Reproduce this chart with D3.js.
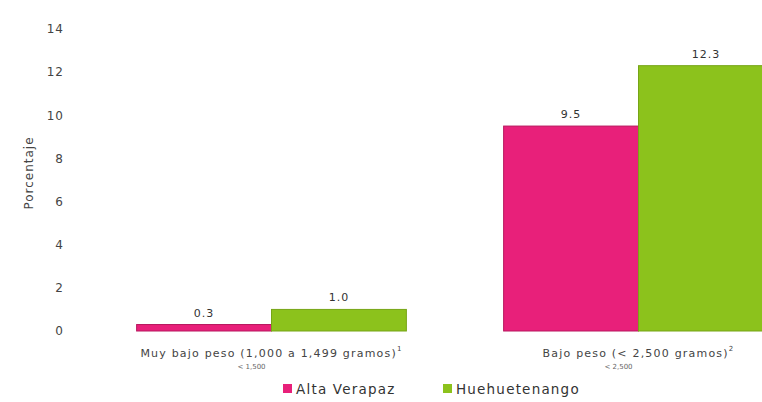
<!DOCTYPE html>
<html>
<head>
<meta charset="utf-8">
<script src="https://cdn.jsdelivr.net/npm/d3@7"></script>
<style>
  html, body { margin: 0; padding: 0; background: #ffffff; }
  svg { display: block; font-family: "DejaVu Sans", Verdana, sans-serif; }
</style>
</head>
<body>
<svg id="chart" width="762" height="402"></svg>
<script>
// Low birth weight percentages by department
const categories = ["Muy bajo peso (1,000 a 1,499 gramos)", "Bajo peso (< 2,500 gramos)"];
const categoryNotes = ["1", "2"];
const categorySublines = ["< 1,500", "< 2,500"];
const seriesNames = ["Alta Verapaz", "Huehuetenango"];
const altaVerapaz = [0.3, 9.5];
const huehuetenango = [1.0, 12.3];
const valueLabels = [["0.3", "1.0"], ["9.5", "12.3"]];
const yTicks = [0, 2, 4, 6, 8, 10, 12, 14];

const colors = ["#e8207a", "#8cc21c"];
const strokes = ["#b8175e", "#76a516"];

const svg = d3.select("#chart");

const x = d3.scaleBand().domain(categories).range([88, 822])
  .paddingInner(0.265).paddingOuter(0.1325);
const xs = d3.scaleBand().domain(seriesNames).range([0, x.bandwidth()]);
const y = d3.scaleLinear().domain([0, 14]).range([331, 29]);

// y axis labels only, no axis line
const yAxis = d3.axisLeft(y).tickValues(yTicks).tickSize(0).tickPadding(0);
const ya = svg.append("g").attr("transform", "translate(64,0)").call(yAxis);
ya.select(".domain").remove();
ya.selectAll("text")
  .attr("font-size", 12).attr("fill", "#444")
  .attr("letter-spacing", 1)
  .attr("font-family", "'DejaVu Sans', sans-serif");

svg.append("text")
  .attr("transform", "translate(33,173) rotate(-90)")
  .attr("text-anchor", "middle")
  .attr("font-size", 12).attr("fill", "#444")
  .attr("letter-spacing", 1)
  .text("Porcentaje");

const rows = categories.map((c, i) => ({
  cat: c, vals: [altaVerapaz[i], huehuetenango[i]], labels: valueLabels[i]
}));

const groups = svg.append("g").selectAll("g").data(rows).join("g")
  .attr("transform", d => `translate(${x(d.cat)},0)`);

groups.selectAll("rect").data(d => d.vals.map((v, j) => ({ v, j, name: seriesNames[j] })))
  .join("rect")
  .attr("x", d => xs(d.name))
  .attr("width", xs.bandwidth())
  .attr("y", d => y(d.v))
  .attr("height", d => y(0) - y(d.v))
  .attr("fill", d => colors[d.j])
  .attr("stroke", d => strokes[d.j])
  .attr("stroke-width", 1);

groups.selectAll("text.val").data(d => d.vals.map((v, j) => ({ v, j, name: seriesNames[j], label: d.labels[j] })))
  .join("text")
  .attr("class", "val")
  .attr("x", d => xs(d.name) + xs.bandwidth() / 2)
  .attr("y", d => y(d.v) - 8)
  .attr("text-anchor", "middle")
  .attr("font-size", 11).attr("fill", "#333")
  .attr("letter-spacing", 1)
  .text(d => d.label);

// category labels with footnote marks
const catLabels = svg.append("g").selectAll("g").data(categories).join("g")
  .attr("transform", d => `translate(${x(d) + x.bandwidth() / 2},357)`);
catLabels.append("text")
  .attr("text-anchor", "middle")
  .attr("font-size", 11).attr("fill", "#444")
  .attr("letter-spacing", 1.2)
  .each(function(d, i) {
    const t = d3.select(this);
    t.append("tspan").text(d);
    t.append("tspan").attr("dy", -6).attr("font-size", 7).text(categoryNotes[i]);
  });
catLabels.append("text")
  .attr("x", -20).attr("y", 12)
  .attr("font-size", 7).attr("fill", "#666")
  .attr("text-anchor", "middle")
  .text((d, i) => categorySublines[i]);

// legend
const legendX = [283, 443];
const legend = svg.append("g").selectAll("g").data(seriesNames).join("g")
  .attr("transform", (d, i) => `translate(${legendX[i]},384)`);
legend.append("rect").attr("width", 9).attr("height", 9)
  .attr("fill", (d, i) => colors[i]);
legend.append("text").attr("x", 13).attr("y", 10)
  .attr("font-size", 13.5).attr("fill", "#333")
  .attr("letter-spacing", 1.2)
  .text(d => d);
</script>
</body>
</html>
